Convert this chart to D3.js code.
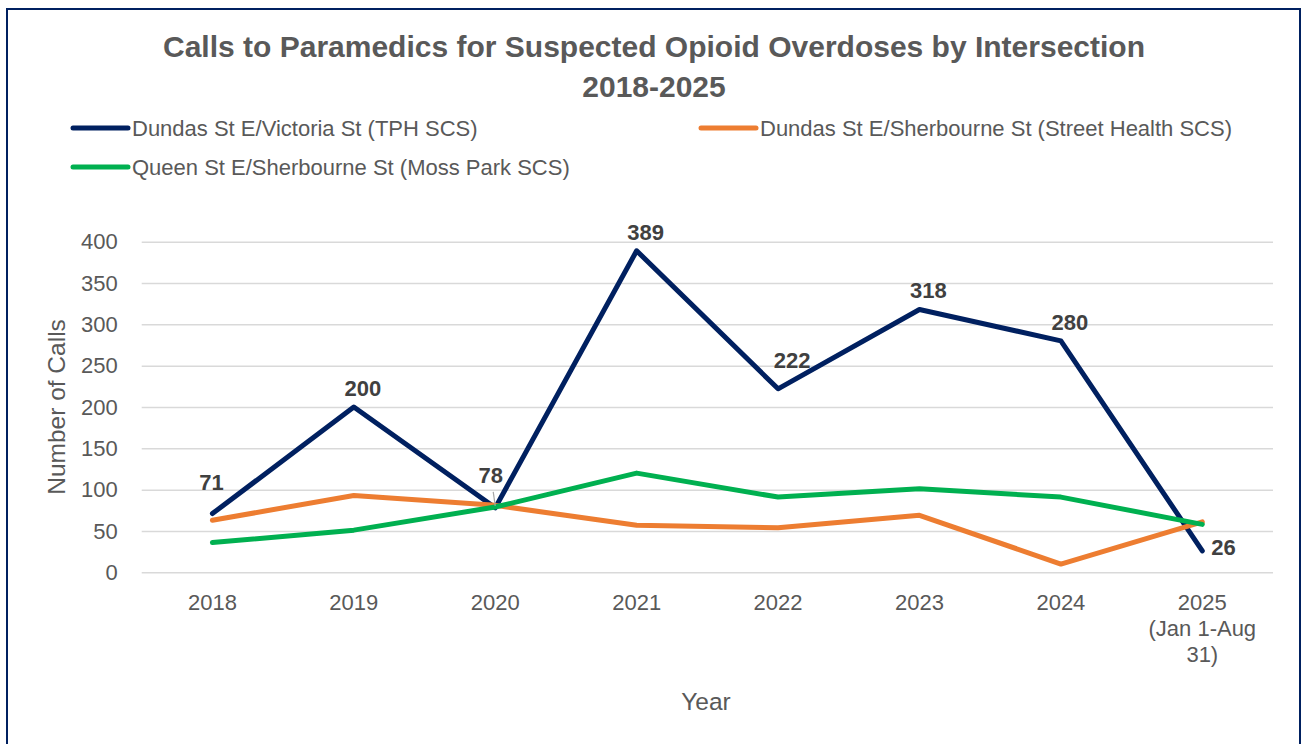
<!DOCTYPE html>
<html>
<head>
<meta charset="utf-8">
<script src="https://cdn.jsdelivr.net/npm/d3@7"></script>
<style>
  html, body { margin: 0; padding: 0; background: #ffffff; }
  svg { display: block; }
  text { font-family: "Liberation Sans", Arial, sans-serif; }
</style>
</head>
<body>
<svg id="chart" width="1304" height="744"></svg>
<script>
// ---- data ----
const years = ["2018", "2019", "2020", "2021", "2022", "2023", "2024", "2025"];
const yearLabels = [["2018"], ["2019"], ["2020"], ["2021"], ["2022"], ["2023"], ["2024"], ["2025", "(Jan 1-Aug", "31)"]];
const victoriaCalls = [71, 200, 78, 389, 222, 318, 280, 26];      // Dundas St E/Victoria St (TPH SCS)
const streetHealthCalls = [63, 93, 81, 57, 54, 69, 10, 61];       // Dundas St E/Sherbourne St (Street Health SCS)
const mossParkCalls = [36, 51, 79, 120, 91, 101, 91, 58];         // Queen St E/Sherbourne St (Moss Park SCS)
const seriesNames = [
  "Dundas St E/Victoria St (TPH SCS)",
  "Dundas St E/Sherbourne St (Street Health SCS)",
  "Queen St E/Sherbourne St (Moss Park SCS)"
];
const yTicks = [0, 50, 100, 150, 200, 250, 300, 350, 400];
const titleLines = ["Calls to Paramedics for Suspected Opioid Overdoses by Intersection", "2018-2025"];

// ---- layout ----
const svg = d3.select("#chart");
const plot = { left: 141.7, right: 1273, top: 241.7, bottom: 572.3 };
const colors = ["#002060", "#ED7D31", "#00B050"];
const textGrey = "#595959";
const lineWidth = 5;

const x = d3.scaleBand().domain(years).range([plot.left, plot.right]).paddingInner(0).paddingOuter(0);
const cx = d => x(d) + x.bandwidth() / 2;
const y = d3.scaleLinear().domain([0, 400]).range([plot.bottom, plot.top]);

// outer frame
svg.append("rect")
  .attr("x", 7).attr("y", 9)
  .attr("width", 1293).attr("height", 760)
  .attr("fill", "#ffffff")
  .attr("stroke", "#002060").attr("stroke-width", 2);

// title
svg.append("g").selectAll("text").data(titleLines).join("text")
  .attr("x", 654)
  .attr("y", (d, i) => 57 + i * 40)
  .attr("text-anchor", "middle")
  .attr("font-size", 30).attr("font-weight", "bold")
  .attr("fill", textGrey)
  .text(d => d);

// legend
const legendItems = [
  { name: seriesNames[0], color: colors[0], x: 73, y: 128 },
  { name: seriesNames[1], color: colors[1], x: 701, y: 128 },
  { name: seriesNames[2], color: colors[2], x: 73, y: 167 }
];
const lg = svg.append("g").selectAll("g").data(legendItems).join("g")
  .attr("transform", d => `translate(${d.x},${d.y})`);
lg.append("line")
  .attr("x1", 0).attr("x2", 55).attr("y1", 0).attr("y2", 0)
  .attr("stroke", d => d.color).attr("stroke-width", lineWidth).attr("stroke-linecap", "round");
lg.append("text")
  .attr("x", 59).attr("y", 0).attr("dy", "0.36em")
  .attr("font-size", 22).attr("fill", textGrey)
  .text(d => d.name);

// y axis with gridlines
const yAxis = svg.append("g")
  .attr("transform", `translate(${plot.left},0)`)
  .call(d3.axisLeft(y).tickValues(yTicks).tickSizeInner(-(plot.right - plot.left)).tickSizeOuter(0).tickPadding(24));
yAxis.select(".domain").remove();
yAxis.selectAll(".tick line").attr("stroke", "#D9D9D9").attr("stroke-width", 1.5);
yAxis.selectAll(".tick text")
  .attr("font-size", 22).attr("fill", textGrey)
  .attr("font-family", "'Liberation Sans', Arial, sans-serif");

// x axis labels (multi-line for the partial year)
const xAxis = svg.append("g")
  .attr("transform", `translate(0,${plot.bottom})`)
  .call(d3.axisBottom(x).tickSize(0).tickPadding(0));
xAxis.select(".domain").remove();
xAxis.selectAll(".tick text").each(function (d, i) {
  const t = d3.select(this).text(null)
    .attr("font-size", 22).attr("fill", textGrey)
    .attr("font-family", "'Liberation Sans', Arial, sans-serif")
    .attr("y", 38).attr("dy", null);
  yearLabels[i].forEach((line, k) => {
    t.append("tspan").attr("x", 0).attr("dy", k === 0 ? 0 : 26).text(line);
  });
});

// axis titles
svg.append("text")
  .attr("transform", "translate(65,407) rotate(-90)")
  .attr("text-anchor", "middle")
  .attr("font-size", 24.5).attr("fill", textGrey)
  .text("Number of Calls");
svg.append("text")
  .attr("x", 706).attr("y", 710)
  .attr("text-anchor", "middle")
  .attr("font-size", 24.5).attr("fill", textGrey)
  .text("Year");

// series lines (drawn back to front)
const seriesData = [victoriaCalls, streetHealthCalls, mossParkCalls];
const line = d3.line().x((d, i) => cx(years[i])).y(d => y(d));
const drawOrder = [0, 1, 2];
svg.append("g").selectAll("path").data(drawOrder).join("path")
  .attr("d", k => line(seriesData[k]))
  .attr("fill", "none")
  .attr("stroke", k => colors[k])
  .attr("stroke-width", lineWidth)
  .attr("stroke-linejoin", "round")
  .attr("stroke-linecap", "round");

// value labels for the Victoria St series
const nudge = {
  "2018": { dx: -1, dy: -32 },
  "2020": { dx: -4.5, dy: -33, leader: true },
  "2022": { dx: 14, dy: -29 },
  "2025": { dx: 9, dy: -4, anchor: "start" }
};
const labelG = svg.append("g");
victoriaCalls.forEach((v, i) => {
  const yr = years[i];
  const n = nudge[yr] || { dx: 9, dy: -19 };
  const px = cx(yr), py = y(v);
  if (n.leader) {
    labelG.append("line")
      .attr("x1", px - 2).attr("y1", py - 16)
      .attr("x2", px).attr("y2", py - 2)
      .attr("stroke", "#A6A6A6").attr("stroke-width", 1.2);
  }
  labelG.append("text")
    .attr("x", px + n.dx).attr("y", py + n.dy).attr("dy", "0.36em")
    .attr("text-anchor", n.anchor || "middle")
    .attr("font-size", 22).attr("font-weight", "bold")
    .attr("fill", "#404040")
    .text(v);
});
</script>
</body>
</html>
